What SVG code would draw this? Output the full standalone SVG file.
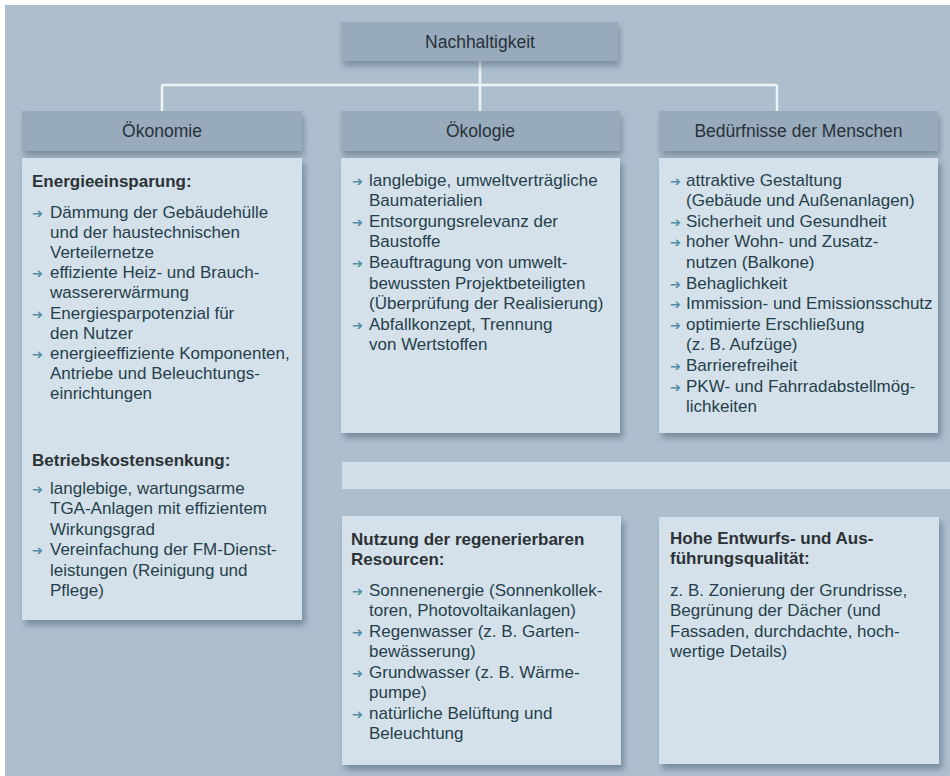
<svg xmlns="http://www.w3.org/2000/svg" width="950" height="776" viewBox="0 0 950 776">
<defs>
<filter id="sh" x="-10%" y="-10%" width="130%" height="130%">
<feDropShadow dx="3" dy="5" stdDeviation="3" flood-color="#4a5f72" flood-opacity="0.55"/>
</filter>
<filter id="shh" x="-10%" y="-20%" width="130%" height="160%">
<feDropShadow dx="2" dy="5" stdDeviation="3" flood-color="#4a5f72" flood-opacity="0.5"/>
</filter>
</defs>
<style>
.hdr{fill:#98abbc;filter:url(#shh)}
.body{fill:#d4e1ea;filter:url(#sh)}
.ht{font-family:"Liberation Sans",Arial,sans-serif;font-size:17.5px;fill:#283139;text-anchor:middle}
.t{font-family:"Liberation Sans",Arial,sans-serif;font-size:17px;fill:#263f4b}
.h{font-family:"Liberation Sans",Arial,sans-serif;font-size:17px;font-weight:bold;fill:#2c3236}
.a{font-family:"DejaVu Sans",sans-serif;font-size:13px;fill:#4f8ea6}
.con{stroke:#eef3f6;stroke-width:2.5;fill:none}
</style>
<rect x="0" y="0" width="950" height="776" fill="#ffffff"/>
<rect x="5" y="5" width="945" height="771" fill="#adbfcd"/>

<g id="connectors">
<path class="con" d="M480 61 V85 M162 85 H777 M162 85 V111 M480 85 V111 M777 85 V111"/>
</g>

<g id="nachhaltigkeit">
<rect class="hdr" x="341" y="22" width="277" height="39"/>
<text class="ht" x="480" y="47.5">Nachhaltigkeit</text>
</g>

<g id="oekonomie">
<rect class="hdr" x="22" y="111" width="280" height="40"/>
<text class="ht" x="162" y="137">Ökonomie</text>
</g>
<g id="oekologie">
<rect class="hdr" x="341" y="111" width="279" height="40"/>
<text class="ht" x="480.5" y="137">Ökologie</text>
</g>
<g id="beduerfnisse">
<rect class="hdr" x="659" y="111" width="279" height="40"/>
<text class="ht" x="798.5" y="137">Bedürfnisse der Menschen</text>
</g>

<g id="oekonomie-body">
<rect class="body" x="22" y="158" width="280" height="462"/>
<text class="h" x="32" y="187">Energieeinsparung:</text>
<text class="a" x="32" y="217.5">➔</text>
<text class="a" x="32" y="278.1">➔</text>
<text class="a" x="32" y="318.5">➔</text>
<text class="a" x="32" y="358.9">➔</text>
<text class="t" x="50" y="217.5">Dämmung der Gebäudehülle</text>
<text class="t" x="50" y="237.7">und der haustechnischen</text>
<text class="t" x="50" y="257.9">Verteilernetze</text>
<text class="t" x="50" y="278.1">effiziente Heiz- und Brauch-</text>
<text class="t" x="50" y="298.3">wassererwärmung</text>
<text class="t" x="50" y="318.5">Energiesparpotenzial für</text>
<text class="t" x="50" y="338.7">den Nutzer</text>
<text class="t" x="50" y="358.9">energieeffiziente Komponenten,</text>
<text class="t" x="50" y="379.1">Antriebe und Beleuchtungs-</text>
<text class="t" x="50" y="399.3">einrichtungen</text>
<text class="h" x="32" y="465.5">Betriebskostensenkung:</text>
<text class="a" x="32" y="493.5">➔</text>
<text class="a" x="32" y="555">➔</text>
<text class="t" x="50" y="493.5">langlebige, wartungsarme</text>
<text class="t" x="50" y="514">TGA-Anlagen mit effizientem</text>
<text class="t" x="50" y="534.5">Wirkungsgrad</text>
<text class="t" x="50" y="555">Vereinfachung der FM-Dienst-</text>
<text class="t" x="50" y="575.5">leistungen (Reinigung und</text>
<text class="t" x="50" y="596">Pflege)</text>
</g>

<g id="oekologie-body">
<rect class="body" x="341" y="158" width="279" height="275"/>
<text class="a" x="352" y="185.5">➔</text>
<text class="a" x="352" y="226.7">➔</text>
<text class="a" x="352" y="267.9">➔</text>
<text class="a" x="352" y="329.7">➔</text>
<text class="t" x="369" y="185.5">langlebige, umweltverträgliche</text>
<text class="t" x="369" y="206.1">Baumaterialien</text>
<text class="t" x="369" y="226.7">Entsorgungsrelevanz der</text>
<text class="t" x="369" y="247.3">Baustoffe</text>
<text class="t" x="369" y="267.9">Beauftragung von umwelt-</text>
<text class="t" x="369" y="288.5">bewussten Projektbeteiligten</text>
<text class="t" x="369" y="309.1">(Überprüfung der Realisierung)</text>
<text class="t" x="369" y="329.7">Abfallkonzept, Trennung</text>
<text class="t" x="369" y="350.3">von Wertstoffen</text>
</g>

<g id="beduerfnisse-body">
<rect class="body" x="659" y="158" width="279" height="275"/>
<text class="a" x="670" y="185.5">➔</text>
<text class="a" x="670" y="226.7">➔</text>
<text class="a" x="670" y="247.3">➔</text>
<text class="a" x="670" y="288.5">➔</text>
<text class="a" x="670" y="309.1">➔</text>
<text class="a" x="670" y="329.7">➔</text>
<text class="a" x="670" y="370.9">➔</text>
<text class="a" x="670" y="391.5">➔</text>
<text class="t" x="686" y="185.5">attraktive Gestaltung</text>
<text class="t" x="686" y="206.1">(Gebäude und Außenanlagen)</text>
<text class="t" x="686" y="226.7">Sicherheit und Gesundheit</text>
<text class="t" x="686" y="247.3">hoher Wohn- und Zusatz-</text>
<text class="t" x="686" y="267.9">nutzen (Balkone)</text>
<text class="t" x="686" y="288.5">Behaglichkeit</text>
<text class="t" x="686" y="309.1">Immission- und Emissionsschutz</text>
<text class="t" x="686" y="329.7">optimierte Erschließung</text>
<text class="t" x="686" y="350.3">(z. B. Aufzüge)</text>
<text class="t" x="686" y="370.9">Barrierefreiheit</text>
<text class="t" x="686" y="391.5">PKW- und Fahrradabstellmög-</text>
<text class="t" x="686" y="412.1">lichkeiten</text>
</g>

<g id="strip">
<rect x="342" y="462" width="608" height="27" fill="#d2dfe8"/>
</g>

<g id="ressourcen">
<rect class="body" x="342" y="516" width="279" height="249"/>
<text class="h" x="351" y="544.5">Nutzung der regenerierbaren</text>
<text class="h" x="351" y="565">Resourcen:</text>
<text class="a" x="352" y="595.5">➔</text>
<text class="a" x="352" y="636.5">➔</text>
<text class="a" x="352" y="677.5">➔</text>
<text class="a" x="352" y="718.5">➔</text>
<text class="t" x="369" y="595.5">Sonnenenergie (Sonnenkollek-</text>
<text class="t" x="369" y="616">toren, Photovoltaikanlagen)</text>
<text class="t" x="369" y="636.5">Regenwasser (z. B. Garten-</text>
<text class="t" x="369" y="657">bewässerung)</text>
<text class="t" x="369" y="677.5">Grundwasser (z. B. Wärme-</text>
<text class="t" x="369" y="698">pumpe)</text>
<text class="t" x="369" y="718.5">natürliche Belüftung und</text>
<text class="t" x="369" y="739">Beleuchtung</text>
</g>

<g id="qualitaet">
<rect class="body" x="659" y="517" width="280" height="247"/>
<text class="h" x="670" y="543.5">Hohe Entwurfs- und Aus-</text>
<text class="h" x="670" y="564">führungsqualität:</text>
<text class="t" x="670" y="595.5">z. B. Zonierung der Grundrisse,</text>
<text class="t" x="670" y="616">Begrünung der Dächer (und</text>
<text class="t" x="670" y="636.5">Fassaden, durchdachte, hoch-</text>
<text class="t" x="670" y="657">wertige Details)</text>
</g>
</svg>
